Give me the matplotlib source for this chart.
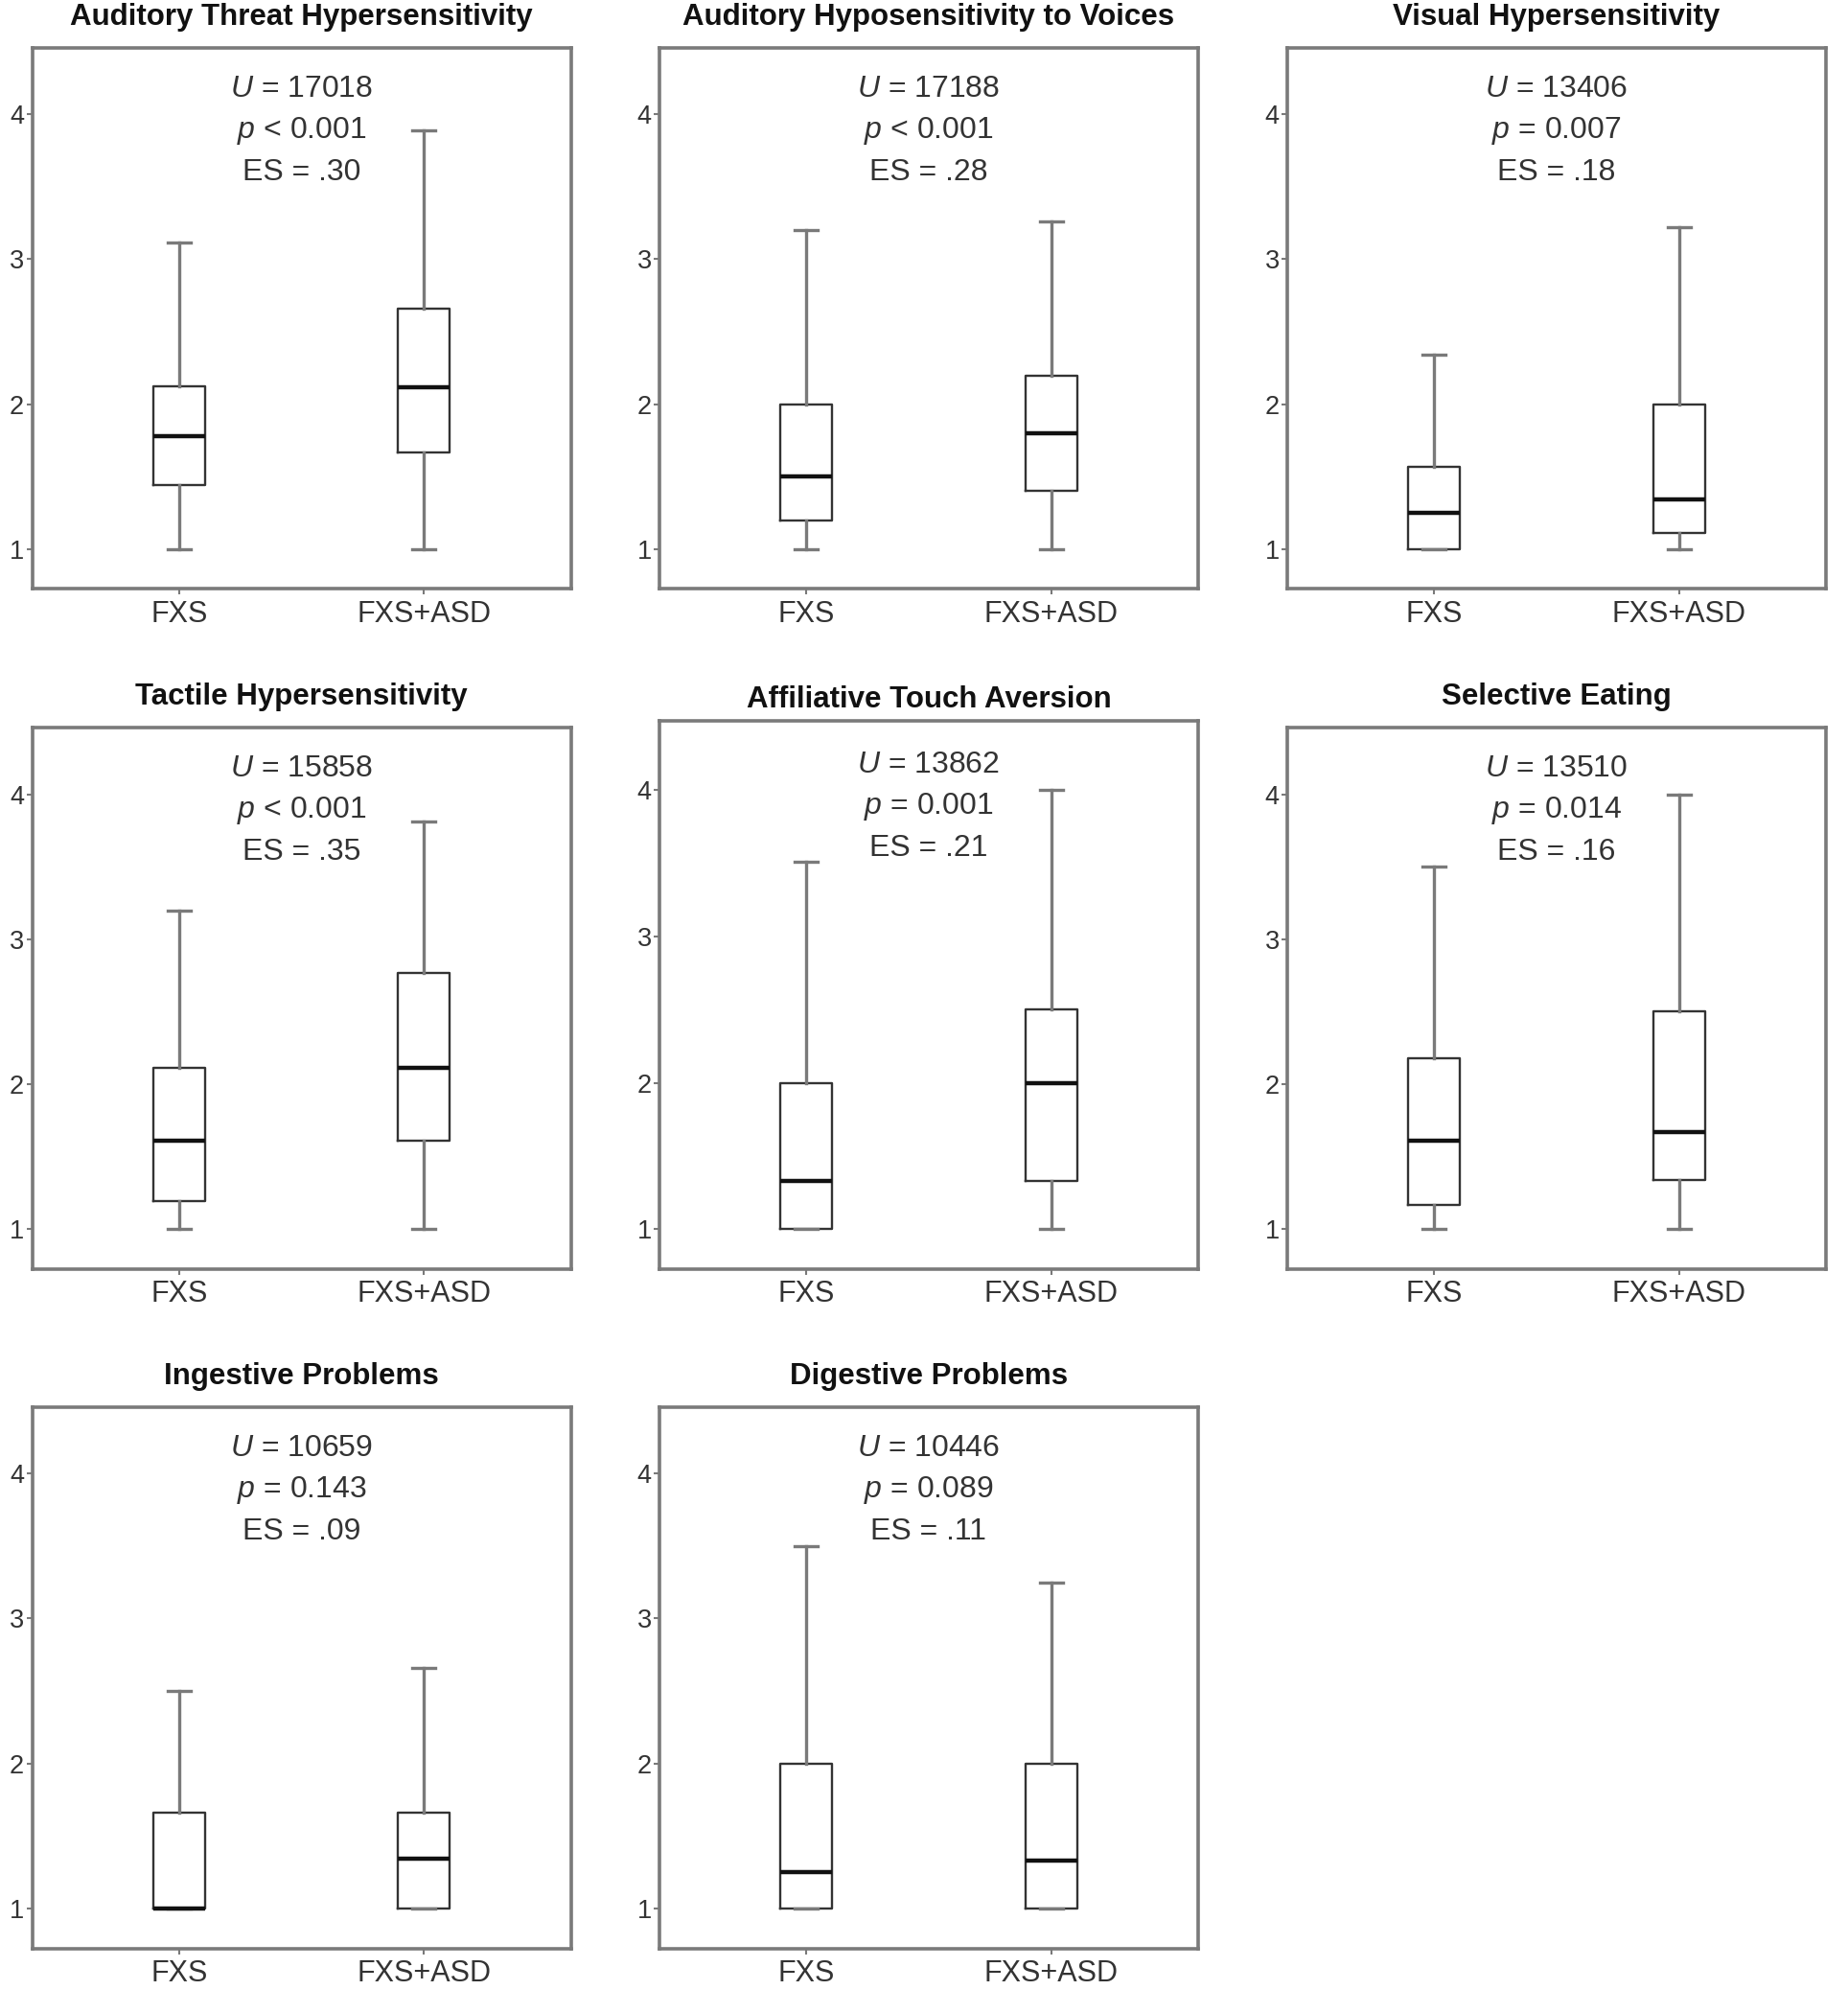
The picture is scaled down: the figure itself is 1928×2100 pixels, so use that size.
import numpy as np
import matplotlib
matplotlib.use("Agg")
import matplotlib.pyplot as plt

plt.rcParams['font.family'] = ['Liberation Sans', 'DejaVu Sans']
plt.rcParams['mathtext.fontset'] = 'custom'
plt.rcParams['mathtext.rm'] = 'Liberation Sans'
plt.rcParams['mathtext.it'] = 'Liberation Sans:italic'

# titulos de cada panel
titulos = ["Auditory Threat Hypersensitivity", "Auditory Hyposensitivity to Voices",
           "Visual Hypersensitivity", "Tactile Hypersensitivity",
           "Affiliative Touch Aversion", "Selective Eating",
           "Ingestive Problems", "Digestive Problems"]
grupos = ["FXS", "FXS+ASD"]

# estadisticos: [FXS, FXS+ASD]
w_bajo  = [[1.0, 1.0], [1.0, 1.0], [1.0, 1.0], [1.0, 1.0],
           [1.0, 1.0], [1.0, 1.0], [1.0, 1.0], [1.0, 1.0]]
q1      = [[1.44, 1.67], [1.195, 1.40], [1.0, 1.115], [1.195, 1.61],
           [1.0, 1.33], [1.17, 1.34], [1.0, 1.0], [1.0, 1.0]]
mediana = [[1.78, 2.115], [1.50, 1.80], [1.25, 1.34], [1.61, 2.11],
           [1.33, 2.0], [1.61, 1.67], [1.0, 1.34], [1.25, 1.33]]
q3      = [[2.12, 2.66], [2.0, 2.195], [1.57, 2.0], [2.11, 2.77],
           [2.0, 2.5], [2.18, 2.5], [1.66, 1.66], [2.0, 2.0]]
w_alto  = [[3.115, 3.89], [3.20, 3.26], [2.34, 3.22], [3.20, 3.81],
           [3.51, 4.0], [3.5, 4.0], [2.50, 2.66], [3.5, 3.25]]

# estadisticos de la prueba
U_val  = ["17018", "17188", "13406", "15858", "13862", "13510", "10659", "10446"]
p_val  = ["< 0.001", "< 0.001", "= 0.007", "< 0.001", "= 0.001", "= 0.014", "= 0.143", "= 0.089"]
ES_val = [".30", ".28", ".18", ".35", ".21", ".16", ".09", ".11"]

fig = plt.figure(figsize=(19.28, 21), dpi=100)
W, H = 1928.0, 2100.0

col_x = [33.5, 688, 1343]
fila_y = [49.5, 759, 1467.5]
ancho, alto = 562, 565

gris = "#7a7a7a"
for k in range(8):
    fila, col = divmod(k, 3)
    top = fila_y[fila]
    h = alto
    ymax = 4.46
    pad_t = 17
    if k == 4:
        top -= 7
        h += 7
        ymax = 4.475
        pad_t = 10
    ax = fig.add_axes([col_x[col] / W, 1 - (top + h) / H, ancho / W, h / H])

    stats = []
    for g in range(2):
        stats.append(dict(med=mediana[k][g], q1=q1[k][g], q3=q3[k][g],
                          whislo=w_bajo[k][g], whishi=w_alto[k][g], fliers=[]))
    ax.bxp(stats, positions=[1, 2], widths=0.21, capwidths=0.095, showfliers=False,
           boxprops=dict(color="#333333", linewidth=1.7),
           whiskerprops=dict(color=gris, linewidth=2.4),
           capprops=dict(color=gris, linewidth=2.4),
           medianprops=dict(color="#111111", linewidth=3.2))

    ax.set_xlim(0.4, 2.6)
    ax.set_ylim(0.725, ymax)
    ax.set_yticks([1, 2, 3, 4])
    ax.set_xticks([1, 2])
    ax.set_xticklabels(grupos)
    ax.tick_params(axis='y', labelsize=19.5, colors=gris, labelcolor="#333333", length=4, width=1.5, pad=2)
    ax.tick_params(axis='x', labelsize=22, colors=gris, labelcolor="#333333", length=4, width=1.5, pad=4)
    for s in ax.spines.values():
        s.set_color(gris)
        s.set_linewidth(2.6)

    ax.set_title(titulos[k], fontsize=22.5, fontweight='bold', color="#111111", pad=pad_t)

    ytxt = 4.173 if k != 4 else 4.175
    ax.text(1.5, ytxt, "$U$ = " + U_val[k], ha='center', va='center', fontsize=23, color="#333333")
    ax.text(1.5, ytxt - 0.285, "$p$ " + p_val[k], ha='center', va='center', fontsize=23, color="#333333")
    ax.text(1.5, ytxt - 0.575, "ES = " + ES_val[k], ha='center', va='center', fontsize=23, color="#333333")

fig.savefig("out.png", dpi=100, facecolor='white')
